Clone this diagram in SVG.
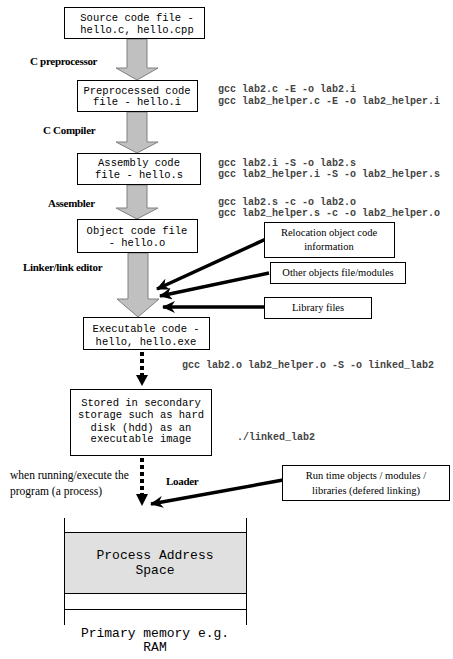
<svg xmlns="http://www.w3.org/2000/svg" width="453" height="659" viewBox="0 0 453 659">
<defs>
<style>
.box{fill:#fff;stroke:#000;stroke-width:1}
.mono{font-family:"Liberation Mono","Courier New",monospace;font-size:10.5px;fill:#000;text-anchor:middle}
.cmd{font-family:"Liberation Mono","Courier New",monospace;font-size:10px;font-weight:bold;fill:#444}
.lbl{font-family:"Liberation Serif","Times New Roman",serif;font-size:11px;font-weight:bold;fill:#000;letter-spacing:-0.3px}
.ser{font-family:"Liberation Serif","Times New Roman",serif;font-size:10.5px;fill:#000;text-anchor:middle}
.serl{font-family:"Liberation Serif","Times New Roman",serif;font-size:11.5px;fill:#000}
.big{font-family:"Liberation Mono","Courier New",monospace;font-size:13px;fill:#000;text-anchor:middle}
.garrow{fill:#c0c0c0;stroke:#808080;stroke-width:1}
.thick{stroke:#000;stroke-width:3.5;fill:none}
.dots{stroke:#000;stroke-width:4;stroke-dasharray:4 3;fill:none}
</style>
<marker id="ah" markerUnits="userSpaceOnUse" markerWidth="14" markerHeight="12" refX="12" refY="6" orient="auto">
<path d="M0,0 L13,6 L0,12 L4,6 Z" fill="#000"/>
</marker>
</defs>
<rect width="453" height="659" fill="#fff"/>

<g id="connectors">
<path class="garrow" d="M127,39 H147 V68 H158 L137,80 L116,68 H127 Z"/>
<path class="garrow" d="M127,112 H147 V142 H158 L137,153 L116,142 H127 Z"/>
<path class="garrow" d="M127,185 H147 V208 H158 L137,219 L116,208 H127 Z"/>
<path class="garrow" d="M128,253 H148 V299 H159 L138,317 L117,299 H128 Z"/>
<line class="thick" x1="266" y1="239" x2="157" y2="289" marker-end="url(#ah)"/>
<line class="thick" x1="269" y1="273" x2="160" y2="296" marker-end="url(#ah)"/>
<line class="thick" x1="264" y1="307" x2="163" y2="307" marker-end="url(#ah)"/>
<line class="thick" x1="283" y1="480" x2="151" y2="504" marker-end="url(#ah)"/>
<line class="dots" x1="142" y1="352" x2="142" y2="376"/>
<path d="M136,375 L148,375 L142,386 Z" fill="#000"/>
<line class="dots" x1="142" y1="458" x2="142" y2="495"/>
<path d="M136,494 L148,494 L142,506 Z" fill="#000"/>
</g>

<g id="source">
<rect class="box" x="64.5" y="7.5" width="140" height="31"/>
<text class="mono" x="137" y="21">Source code file -</text>
<text class="mono" x="137" y="33">hello.c, hello.cpp</text>
</g>
<g id="preprocessed">
<rect class="box" x="77.5" y="80.5" width="120" height="31"/>
<text class="mono" x="137" y="94">Preprocessed code</text>
<text class="mono" x="137" y="105">file - hello.i</text>
</g>
<g id="assembly">
<rect class="box" x="77.5" y="153.5" width="123" height="31"/>
<text class="mono" x="139" y="166">Assembly code</text>
<text class="mono" x="139" y="178">file - hello.s</text>
</g>
<g id="object">
<rect class="box" x="77.5" y="219.5" width="120" height="33"/>
<text class="mono" x="137" y="234">Object code file</text>
<text class="mono" x="137" y="246">- hello.o</text>
</g>
<g id="executable">
<rect class="box" x="83.5" y="317.5" width="126" height="32"/>
<text class="mono" x="146" y="332">Executable code -</text>
<text class="mono" x="146" y="345">hello, hello.exe</text>
</g>
<g id="stored">
<rect class="box" x="70.5" y="389.5" width="141" height="66"/>
<text class="mono" x="141" y="406">Stored in secondary</text>
<text class="mono" x="141" y="418">storage such as hard</text>
<text class="mono" x="141" y="431">disk (hdd) as an</text>
<text class="mono" x="141" y="442">executable image</text>
</g>
<g id="relocation">
<rect class="box" x="264.5" y="222.5" width="130" height="35"/>
<text class="ser" x="329" y="236">Relocation object code</text>
<text class="ser" x="329" y="250">information</text>
</g>
<g id="other">
<rect class="box" x="270.5" y="262.5" width="135" height="21"/>
<text class="ser" x="338" y="276">Other objects file/modules</text>
</g>
<g id="library">
<rect class="box" x="264.5" y="297.5" width="107" height="21"/>
<text class="ser" x="318" y="311">Library files</text>
</g>
<g id="runtime">
<rect class="box" x="282.5" y="465.5" width="167" height="35"/>
<text class="ser" x="366" y="479">Run time objects / modules /</text>
<text class="ser" x="366" y="494">libraries (defered linking)</text>
</g>
<g id="memory">
<rect x="64" y="532" width="182" height="61" fill="#e0e0e0"/>
<line x1="64.5" y1="518" x2="64.5" y2="625" stroke="#000"/>
<line x1="246.5" y1="518" x2="246.5" y2="625" stroke="#000"/>
<line x1="64" y1="532.5" x2="247" y2="532.5" stroke="#000"/>
<line x1="64" y1="593.5" x2="247" y2="593.5" stroke="#000"/>
<line x1="64" y1="609.5" x2="247" y2="609.5" stroke="#000"/>
<text class="big" x="155" y="559">Process Address</text>
<text class="big" x="155" y="574">Space</text>
<text class="big" x="155" y="637">Primary memory e.g.</text>
<text class="big" x="155" y="651">RAM</text>
</g>

<g id="labels">
<text class="lbl" x="30" y="65">C preprocessor</text>
<text class="lbl" x="43" y="134">C Compiler</text>
<text class="lbl" x="48" y="207">Assembler</text>
<text class="lbl" x="23" y="271">Linker/link editor</text>
<text class="lbl" x="166" y="485">Loader</text>
<text class="serl" x="10" y="479">when running/execute the</text>
<text class="serl" x="10" y="495">program (a process)</text>
<text class="cmd" x="218" y="92">gcc lab2.c -E -o lab2.i</text>
<text class="cmd" x="218" y="104">gcc lab2_helper.c -E -o lab2_helper.i</text>
<text class="cmd" x="218" y="166">gcc lab2.i -S -o lab2.s</text>
<text class="cmd" x="218" y="177">gcc lab2_helper.i -S -o lab2_helper.s</text>
<text class="cmd" x="218" y="205">gcc lab2.s -c -o lab2.o</text>
<text class="cmd" x="218" y="216">gcc lab2_helper.s -c -o lab2_helper.o</text>
<text class="cmd" x="182" y="368">gcc lab2.o lab2_helper.o -S -o linked_lab2</text>
<text class="cmd" x="237" y="440">./linked_lab2</text>
</g>
</svg>
